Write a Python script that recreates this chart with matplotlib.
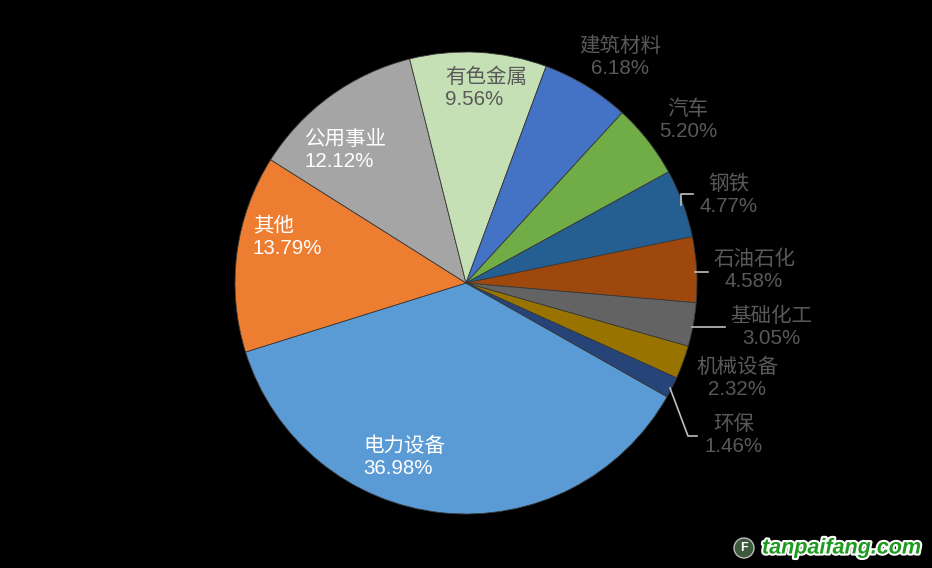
import matplotlib
matplotlib.use("Agg")
import matplotlib.pyplot as plt
import matplotlib.patheffects as pe
from matplotlib.patches import Circle

plt.rcParams['font.family'] = ['Liberation Sans', 'Noto Sans CJK SC', 'DejaVu Sans']

categories = ['电力设备', '其他', '公用事业', '有色金属', '建筑材料', '汽车',
              '钢铁', '石油石化', '基础化工', '机械设备', '环保']
values = [36.98, 13.79, 12.12, 9.56, 6.18, 5.20, 4.77, 4.58, 3.05, 2.32, 1.46]
colors = ['#5B9BD5', '#ED7D31', '#A5A5A5', '#C5E0B4', '#4472C4', '#70AD47',
          '#255E91', '#9E480E', '#636363', '#997300', '#264478']

W, H = 932, 568
fig = plt.figure(figsize=(W / 100, H / 100), dpi=100, facecolor='black')
ax = fig.add_axes([0, 0, 1, 1])
ax.set_facecolor('black')

cx, cy, R = 466, 283, 231
# y axis inverted -> counterclock=True draws clockwise on screen
ax.pie(values, colors=colors, center=(cx, cy), radius=R, startangle=29.5,
       counterclock=True, frame=True,
       wedgeprops=dict(linewidth=0.6, edgecolor='#3a3a3a'))
ax.set_xlim(0, W)
ax.set_ylim(H, 0)
ax.set_aspect('equal')
ax.axis('off')

labels_txt = [f"{c}\n{v:.2f}%" for c, v in zip(categories, values)]
# (x, y, ha, color)
label_pos = [
    (363, 457, 'left', 'white'),
    (253, 237, 'left', 'white'),
    (305, 150, 'left', 'white'),
    (445, 88, 'left', '#595959'),
    (620, 57, 'center', '#595959'),
    (688, 120, 'center', '#595959'),
    (729, 195, 'center', '#595959'),
    (754, 270, 'center', '#595959'),
    (771, 327, 'center', '#595959'),
    (737, 378, 'center', '#595959'),
    (734, 435, 'center', '#595959'),
]
for t, (x, y, ha, c) in zip(labels_txt, label_pos):
    ax.text(x, y, t, ha=ha, va='center', color=c, fontsize=14.8,
            linespacing=1.2, multialignment=ha)

lc = '#BFBFBF'
ax.plot([681, 681, 693], [205, 194, 194], color=lc, lw=1.2)
ax.plot([695, 708], [272, 272], color=lc, lw=1.2)
ax.plot([692, 725], [327, 327], color=lc, lw=1.2)
ax.plot([670, 688, 697], [388, 436, 436], color=lc, lw=1.2)

# watermark
ax.add_patch(Circle((744, 548), 10, facecolor='#3d5a3d', edgecolor='#bbbbbb', lw=1))
ax.text(744, 548, 'F', ha='center', va='center', color='white', fontsize=9,
        fontweight='bold')
ax.text(762, 548, 'tanpaifang.com', ha='left', va='center', color='#1E9A1E',
        fontsize=15.5, fontweight='bold', style='italic', family='Liberation Sans',
        path_effects=[pe.withStroke(linewidth=3, foreground='white')])

fig.savefig('out.png', dpi=100, facecolor='black')
